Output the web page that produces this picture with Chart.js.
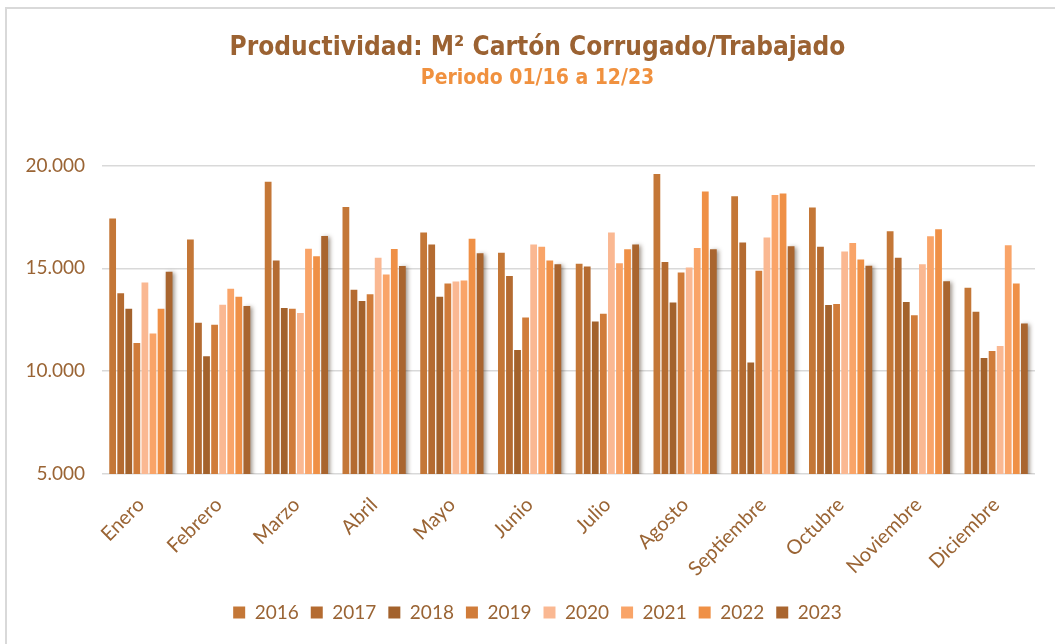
<!DOCTYPE html>
<html lang="es">
<head>
<meta charset="utf-8">
<title>Productividad M² Cartón Corrugado/Trabajado</title>
<script src="https://cdn.jsdelivr.net/npm/chart.js@4.4.1/dist/chart.umd.min.js"></script>
<style>
    html, body { margin: 0; padding: 0; background: #ffffff; }
    #marco {
        position: absolute; left: 0; top: 0; width: 1055px; height: 644px; overflow: hidden;
    }
    #borde {
        position: absolute; left: 5px; top: 7px; right: -10px; bottom: -10px;
        border-top: 2px solid #d9d9d9; border-left: 2px solid #d9d9d9;
    }
    #chartProductividad { position: absolute; left: 0; top: 0; }
</style>
</head>
<body>
<div id="marco">
    <div id="borde"></div>
    <canvas id="chartProductividad" width="1055" height="644"></canvas>
</div>
<script>
// Meses (categorías)
const meses = ['Enero', 'Febrero', 'Marzo', 'Abril', 'Mayo', 'Junio', 'Julio',
    'Agosto', 'Septiembre', 'Octubre', 'Noviembre', 'Diciembre'];

// M² por trabajado, por año
const anios = ['2016', '2017', '2018', '2019', '2020', '2021', '2022', '2023'];
const datos2016 = [17420, 16400, 19200, 17980, 16740, 15760, 15220, 19580, 18500, 17950, 16800, 14050];
const datos2017 = [13790, 12350, 15380, 13950, 16150, 14630, 15090, 15300, 16250, 16050, 15510, 12890];
const datos2018 = [13030, 10720, 13070, 13410, 13610, 11030, 12410, 13330, 10420, 13210, 13360, 10640];
const datos2019 = [11370, 12250, 13030, 13740, 14260, 12610, 12790, 14800, 14880, 13260, 12720, 10980];
const datos2020 = [14310, 13230, 12820, 15510, 14360, 16150, 16740, 15040, 16490, 15820, 15200, 11220];
const datos2021 = [11830, 14010, 15950, 14700, 14400, 16040, 15240, 15990, 18560, 16230, 16560, 16120];
const datos2022 = [13030, 13610, 15580, 15940, 16440, 15380, 15920, 18730, 18630, 15430, 16900, 14260];
const datos2023 = [14830, 13170, 16570, 15110, 15730, 15190, 16150, 15920, 16070, 15120, 14370, 12320];

// Escala
const ejeMin = 5000;
const ejeMax = 20000;
const ejePaso = 5000;

const series = [datos2016, datos2017, datos2018, datos2019, datos2020, datos2021, datos2022, datos2023];

const cores = ['#C47737', '#B46B31', '#A3622C', '#D07C3A', '#FAB892', '#F9A468', '#EF9046', '#A9652F'];
const colorTexto = '#9A6434';

function formatoMiles(valor) {
    return String(valor).replace(/\B(?=(\d{3})+(?!\d))/g, '.');
}

// sombra para la serie 2023
const sombra2023 = {
    id: 'sombra2023',
    beforeDatasetDraw(chart, args) {
        if (args.index !== 7) return;
        const ctx = chart.ctx;
        ctx.save();
        ctx.shadowColor = 'rgba(60, 40, 20, 0.5)';
        ctx.shadowBlur = 4;
        ctx.shadowOffsetX = 2;
        ctx.shadowOffsetY = 1;
    },
    afterDatasetDraw(chart, args) {
        if (args.index !== 7) return;
        chart.ctx.restore();
    }
};

function crearGrafico() {
    const ctx = document.getElementById('chartProductividad');
    if (!ctx) return;

    new Chart(ctx, {
        type: 'bar',
        data: {
            labels: meses,
            datasets: series.map((d, i) => ({
                label: anios[i],
                data: d,
                backgroundColor: cores[i],
                borderWidth: 0,
                categoryPercentage: 0.83,
                barPercentage: 0.84
            }))
        },
        options: {
            responsive: false,
            animation: false,
            layout: {
                padding: { top: 31, left: 20, right: 0, bottom: 12 }
            },
            plugins: {
                title: {
                    display: true,
                    text: 'Productividad: M² Cartón Corrugado/Trabajado',
                    color: '#9B6232',
                    font: { family: '"DejaVu Sans Condensed", sans-serif', size: 26, weight: 'bold' },
                    padding: { top: 2, bottom: 2 }
                },
                subtitle: {
                    display: true,
                    text: 'Periodo 01/16 a 12/23',
                    color: '#F0913F',
                    font: { family: '"DejaVu Sans Condensed", sans-serif', size: 21, weight: 'bold' },
                    padding: { top: 0, bottom: 74 }
                },
                legend: {
                    display: true,
                    position: 'bottom',
                    labels: {
                        boxWidth: 12,
                        boxHeight: 12,
                        padding: 12,
                        color: colorTexto,
                        font: { family: 'Lato, sans-serif', size: 19 }
                    }
                },
                tooltip: { enabled: false }
            },
            scales: {
                y: {
                    min: ejeMin,
                    max: ejeMax,
                    ticks: {
                        stepSize: ejePaso,
                        padding: 17,
                        color: colorTexto,
                        font: { family: 'Lato, sans-serif', size: 19 },
                        callback: function(value) {
                            return formatoMiles(value);
                        }
                    },
                    grid: {
                        color: '#d9d9d9',
                        lineWidth: 1.5,
                        drawTicks: false
                    },
                    border: { display: false },
                    afterFit: function(scale) {
                        scale.width = 82;
                    }
                },
                // margen derecho vacío (deja el área del gráfico hasta 1035 px)
                margen: {
                    type: 'linear',
                    position: 'right',
                    display: true,
                    ticks: { display: false },
                    grid: { display: false, drawTicks: false },
                    border: { display: false },
                    afterFit: function(scale) {
                        scale.width = 20;
                    }
                },
                x: {
                    ticks: {
                        minRotation: 45,
                        maxRotation: 45,
                        padding: 19,
                        color: colorTexto,
                        font: { family: 'Lato, sans-serif', size: 20 }
                    },
                    grid: { display: false, drawTicks: false },
                    border: { display: false },
                    afterFit: function(scale) {
                        scale.height = 117;
                    }
                }
            }
        },
        plugins: [sombra2023]
    });
}

document.addEventListener('DOMContentLoaded', function() {
    crearGrafico();
});
</script>
</body>
</html>
